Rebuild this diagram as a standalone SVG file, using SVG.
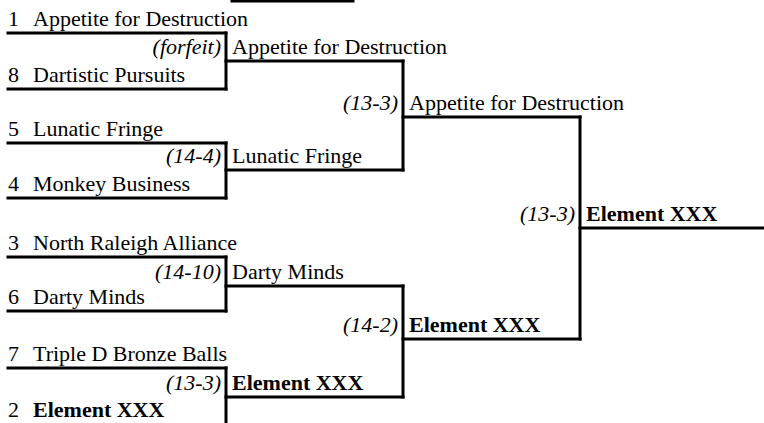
<svg xmlns="http://www.w3.org/2000/svg" width="764" height="423" viewBox="0 0 764 423">
<style>
.s{font-style:italic;text-anchor:end}
.b{font-weight:bold}
.c line{stroke:#000;stroke-width:3;stroke-linecap:square}
</style>
<rect width="764" height="423" fill="#fff"/>
<g class="c" id="connectors">
<line x1="232" y1="1" x2="353" y2="1"/>
<line x1="8" y1="33" x2="226" y2="33"/><line x1="8" y1="89" x2="226" y2="89"/><line x1="226" y1="33" x2="226" y2="89"/>
<line x1="8" y1="143" x2="226" y2="143"/><line x1="8" y1="198" x2="226" y2="198"/><line x1="226" y1="143" x2="226" y2="198"/>
<line x1="8" y1="257" x2="226" y2="257"/><line x1="8" y1="311" x2="226" y2="311"/><line x1="226" y1="257" x2="226" y2="311"/>
<line x1="8" y1="368" x2="226" y2="368"/><line x1="8" y1="426" x2="226" y2="426"/><line x1="226" y1="368" x2="226" y2="426"/>
<line x1="226" y1="61" x2="403" y2="61"/><line x1="226" y1="170" x2="403" y2="170"/><line x1="403" y1="61" x2="403" y2="170"/>
<line x1="226" y1="286" x2="403" y2="286"/><line x1="226" y1="397" x2="403" y2="397"/><line x1="403" y1="286" x2="403" y2="397"/>
<line x1="403" y1="117" x2="580" y2="117"/><line x1="403" y1="339" x2="580" y2="339"/><line x1="580" y1="117" x2="580" y2="339"/>
<line x1="580" y1="228" x2="764" y2="228"/>
</g>
<g font-family="Liberation Serif, Tinos, Times New Roman, DejaVu Serif, serif" font-size="22" fill="#000">
<g id="r1-1"><text x="8" y="26">1</text><text x="33" y="26">Appetite for Destruction</text></g>
<g id="r1-8"><text x="8" y="82">8</text><text x="33" y="82">Dartistic Pursuits</text></g>
<g id="r1-5"><text x="8" y="136">5</text><text x="33" y="136">Lunatic Fringe</text></g>
<g id="r1-4"><text x="8" y="191">4</text><text x="33" y="191">Monkey Business</text></g>
<g id="r1-3"><text x="8" y="250">3</text><text x="33" y="250">North Raleigh Alliance</text></g>
<g id="r1-6"><text x="8" y="304">6</text><text x="33" y="304">Darty Minds</text></g>
<g id="r1-7"><text x="8" y="361">7</text><text x="33" y="361">Triple D Bronze Balls</text></g>
<g id="r1-2"><text x="8" y="417">2</text><text x="33" y="417" class="b">Element XXX</text></g>
<g id="r2-1"><text x="221" y="54" class="s">(forfeit)</text><text x="232" y="54">Appetite for Destruction</text></g>
<g id="r2-2"><text x="221" y="163" class="s">(14-4)</text><text x="232" y="163">Lunatic Fringe</text></g>
<g id="r2-3"><text x="221" y="279" class="s">(14-10)</text><text x="232" y="279">Darty Minds</text></g>
<g id="r2-4"><text x="221" y="390" class="s">(13-3)</text><text x="232" y="390" class="b">Element XXX</text></g>
<g id="r3-1"><text x="398" y="110" class="s">(13-3)</text><text x="409" y="110">Appetite for Destruction</text></g>
<g id="r3-2"><text x="398" y="332" class="s">(14-2)</text><text x="409" y="332" class="b">Element XXX</text></g>
<g id="final"><text x="575" y="221" class="s">(13-3)</text><text x="586" y="221" class="b">Element XXX</text></g>
</g>
</svg>
